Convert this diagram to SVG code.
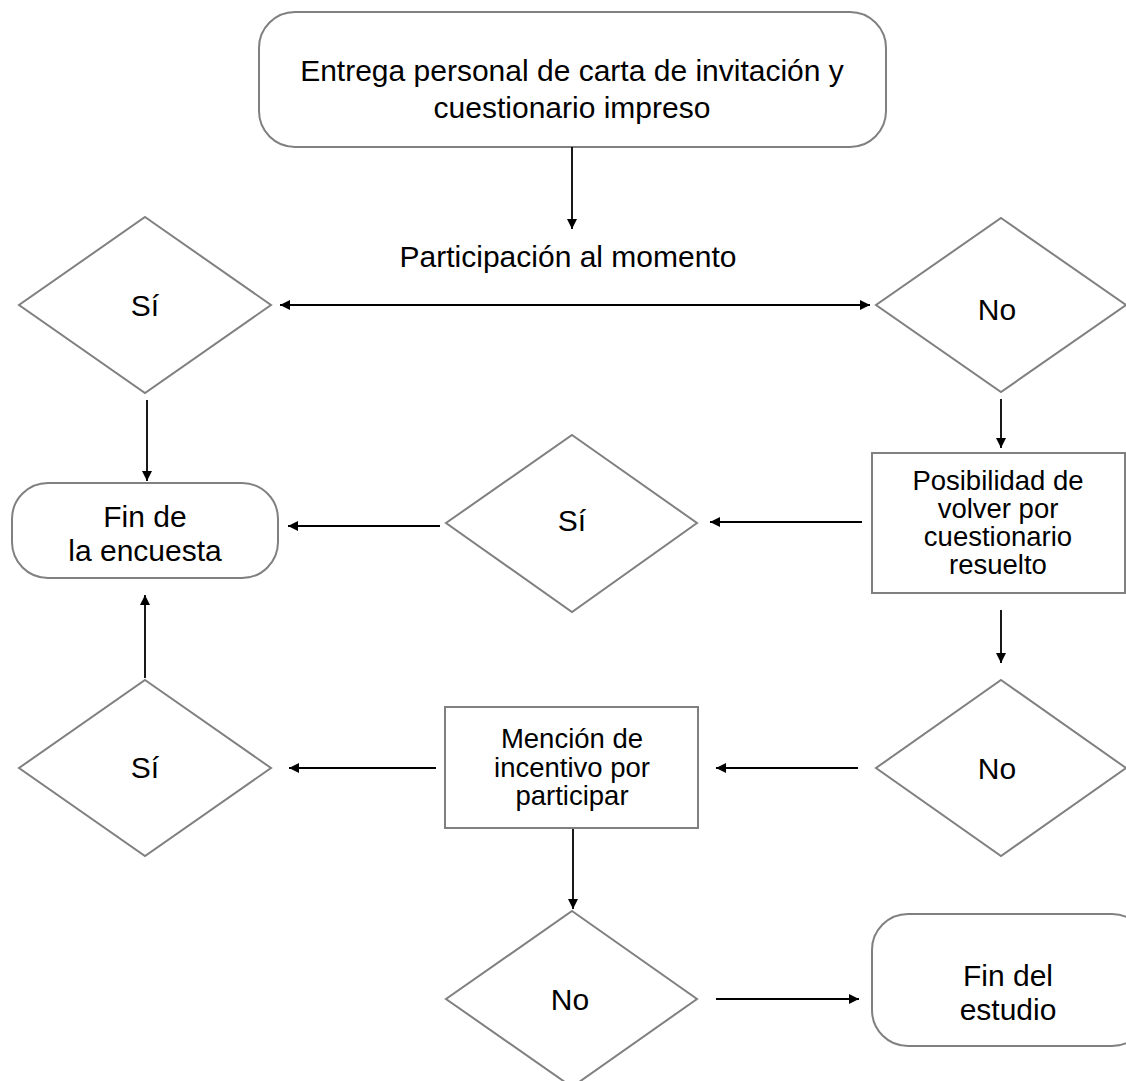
<svg xmlns="http://www.w3.org/2000/svg" width="1126" height="1081" viewBox="0 0 1126 1081">
<style>
.shape{fill:#ffffff;stroke:#808080;stroke-width:2}
.t{font-family:"Liberation Sans",Arial,sans-serif;fill:#000000;text-anchor:middle}
.big{font-size:30px}
.mid{font-size:30px}
.sm{font-size:27.5px}
.conn line{stroke:#000000;stroke-width:1.8}
</style>
<defs>
<marker id="ah" viewBox="0 0 10 10" refX="10" refY="5" markerWidth="10" markerHeight="10" markerUnits="userSpaceOnUse" orient="auto-start-reverse">
<path d="M0,0 L10,5 L0,10 Z" fill="#000000"/>
</marker>
</defs>
<rect width="1126" height="1081" fill="#ffffff"/>
<g id="n-entrega">
<rect class="shape" x="259" y="12" width="627" height="135" rx="36"/>
<text class="t big" x="572" y="81">Entrega personal de carta de invitación y</text>
<text class="t big" x="572" y="118">cuestionario impreso</text>
</g>
<g id="n-participacion">
<text class="t big" x="568" y="267">Participación al momento</text>
</g>
<g id="n-si1">
<polygon class="shape" points="145,217 271,305 145,393 19,305"/>
<text class="t mid" x="145" y="316">Sí</text>
</g>
<g id="n-no1">
<polygon class="shape" points="1001,218 1126,305 1001,392 876,305"/>
<text class="t mid" x="997" y="320">No</text>
</g>
<g id="n-fin-encuesta">
<rect class="shape" x="12" y="483" width="266" height="95" rx="36"/>
<text class="t mid" x="145" y="527">Fin de</text>
<text class="t mid" x="145" y="561">la encuesta</text>
</g>
<g id="n-si2">
<polygon class="shape" points="572,435 697,523 572,612 446,523"/>
<text class="t mid" x="572" y="531">Sí</text>
</g>
<g id="n-posibilidad">
<rect class="shape" x="872" y="453" width="253" height="140"/>
<text class="t sm" x="998" y="490">Posibilidad de</text>
<text class="t sm" x="998" y="518">volver por</text>
<text class="t sm" x="998" y="546">cuestionario</text>
<text class="t sm" x="998" y="574">resuelto</text>
</g>
<g id="n-no2">
<polygon class="shape" points="1001,680 1126,768 1001,856 876,768"/>
<text class="t mid" x="997" y="779">No</text>
</g>
<g id="n-mencion">
<rect class="shape" x="445" y="707" width="253" height="121"/>
<text class="t sm" x="572" y="748">Mención de</text>
<text class="t sm" x="572" y="777">incentivo por</text>
<text class="t sm" x="572" y="805">participar</text>
</g>
<g id="n-si3">
<polygon class="shape" points="145,680 271,768 145,856 19,768"/>
<text class="t mid" x="145" y="778">Sí</text>
</g>
<g id="n-no3">
<polygon class="shape" points="572,911 697,999 572,1087 446,999"/>
<text class="t mid" x="570" y="1010">No</text>
</g>
<g id="n-fin-estudio">
<rect class="shape" x="872" y="914" width="276" height="132" rx="36"/>
<text class="t mid" x="1008" y="986">Fin del</text>
<text class="t mid" x="1008" y="1020">estudio</text>
</g>
<g id="connectors" class="conn">
<line x1="572" y1="147" x2="572" y2="229" marker-end="url(#ah)"/>
<line x1="280" y1="305" x2="870" y2="305" marker-start="url(#ah)" marker-end="url(#ah)"/>
<line x1="147" y1="400" x2="147" y2="481" marker-end="url(#ah)"/>
<line x1="1001" y1="399" x2="1001" y2="448" marker-end="url(#ah)"/>
<line x1="862" y1="522" x2="710" y2="522" marker-end="url(#ah)"/>
<line x1="440" y1="526" x2="288" y2="526" marker-end="url(#ah)"/>
<line x1="1001" y1="610" x2="1001" y2="663" marker-end="url(#ah)"/>
<line x1="858" y1="768" x2="716" y2="768" marker-end="url(#ah)"/>
<line x1="436" y1="768" x2="289" y2="768" marker-end="url(#ah)"/>
<line x1="145" y1="678" x2="145" y2="595" marker-end="url(#ah)"/>
<line x1="573" y1="829" x2="573" y2="909" marker-end="url(#ah)"/>
<line x1="716" y1="999" x2="859" y2="999" marker-end="url(#ah)"/>
</g>
</svg>
